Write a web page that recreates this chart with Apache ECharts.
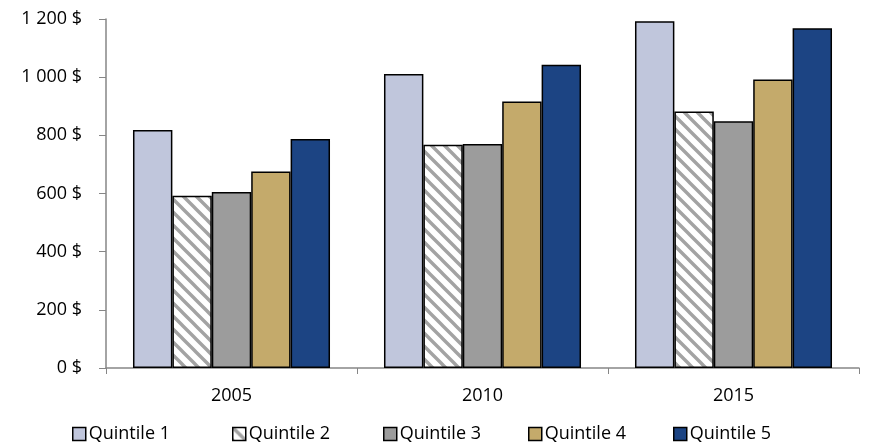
<!DOCTYPE html>
<html lang="fr">
<head>
    <meta charset="UTF-8">
    <title>Quintiles</title>
    <style>
        html, body { margin: 0; padding: 0; background: #fff; }
        #main { width: 872px; height: 446px; }
    </style>
</head>
<body>
<div id="main"></div>
<script src="https://cdn.jsdelivr.net/npm/echarts@6/dist/echarts.min.js"></script>
<script>
    // données
    const years = ['2005', '2010', '2015'];
    const quintileNames = ['Quintile 1', 'Quintile 2', 'Quintile 3', 'Quintile 4', 'Quintile 5'];
    const q1 = [818, 1011, 1192];
    const q2 = [592, 768, 882];
    const q3 = [605, 770, 848];
    const q4 = [676, 916, 992];
    const q5 = [787, 1043, 1168];
    const yTicks = [0, 200, 400, 600, 800, 1000, 1200];

    // motif hachuré pour le quintile 2
    function hatch() {
        const s = 13;
        const c = document.createElement('canvas');
        c.width = s; c.height = s;
        const ctx = c.getContext('2d');
        ctx.fillStyle = '#fff';
        ctx.fillRect(0, 0, s, s);
        ctx.strokeStyle = '#a3a3a3';
        ctx.lineWidth = 3.4;
        ctx.beginPath();
        ctx.moveTo(-s, 0); ctx.lineTo(s, 2 * s);
        ctx.moveTo(0, 0); ctx.lineTo(s, s);
        ctx.moveTo(0, -s); ctx.lineTo(2 * s, s);
        ctx.stroke();
        return { image: c, repeat: 'repeat' };
    }

    const colors = ['#c0c6dc', hatch(), '#9c9c9c', '#c4aa6b', '#1c4483'];
    const values = [q1, q2, q3, q4, q5];
    const legendLeft = [72, 232, 383, 528, 673];
    const font = '"Open Sans", "Noto Sans", sans-serif';

    const chart = echarts.init(document.getElementById('main'));
    chart.setOption({
        animation: false,
        grid: { left: 106, right: 13, top: 19, bottom: 78 },
        legend: quintileNames.map(function (name, i) {
            return {
                top: 425,
                left: legendLeft[i],
                padding: 0,
                icon: 'rect',
                itemWidth: 13,
                itemHeight: 13,
                itemStyle: { borderColor: '#000', borderWidth: 1.5 },
                textStyle: { fontFamily: font, fontSize: 18, color: '#000', padding: [0, 0, 0, -2] },
                data: [name]
            };
        }),
        xAxis: {
            type: 'category',
            data: years,
            axisLine: { lineStyle: { color: '#868686', width: 1.5 } },
            axisTick: { show: true, length: 6, lineStyle: { color: '#868686' } },
            axisLabel: { fontFamily: font, fontSize: 18, color: '#000', margin: 19 }
        },
        yAxis: {
            type: 'value',
            min: 0,
            max: 1200,
            interval: 200,
            axisLine: { show: true, lineStyle: { color: '#868686', width: 1.5 } },
            axisTick: { show: true, length: 7, lineStyle: { color: '#868686' } },
            splitLine: { show: false },
            axisLabel: {
                fontFamily: font, fontSize: 18, color: '#000', margin: 24,
                customValues: yTicks,
                formatter: function (v) {
                    return String(v).replace(/\B(?=(\d{3})+(?!\d))/g, ' ') + ' $';
                }
            }
        },
        series: quintileNames.map(function (name, i) {
            return {
                name: name,
                type: 'bar',
                data: values[i],
                barGap: '0%',
                barCategoryGap: '21.5%',
                itemStyle: { color: colors[i], borderColor: '#000', borderWidth: 1.5 }
            };
        })
    });
</script>
</body>
</html>
